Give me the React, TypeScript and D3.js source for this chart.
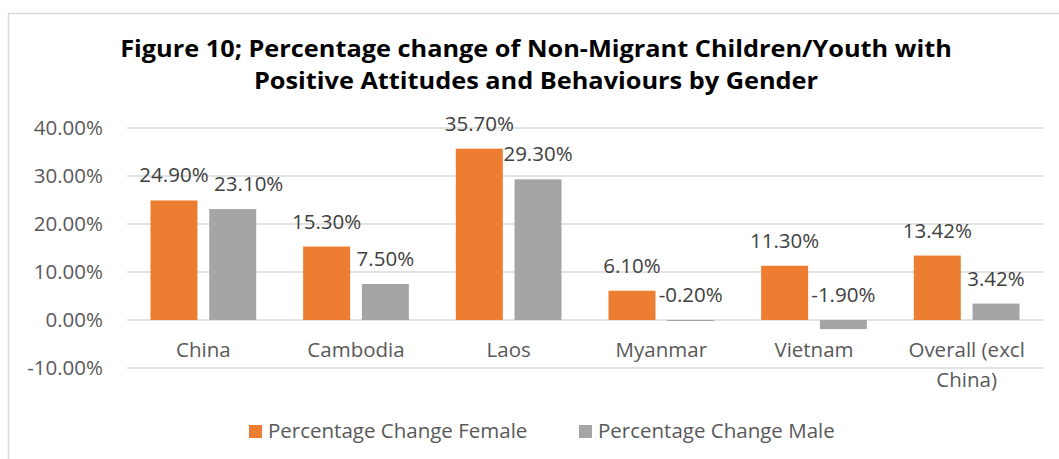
import React from "react";
import * as d3 from "d3";

// Categories, series and values
const categories: string[][] = [
  ["China"],
  ["Cambodia"],
  ["Laos"],
  ["Myanmar"],
  ["Vietnam"],
  ["Overall (excl", "China)"],
];
const seriesNames = ["Percentage Change Female", "Percentage Change Male"];
const femaleValues = [24.9, 15.3, 35.7, 6.1, 11.3, 13.42];
const maleValues = [23.1, 7.5, 29.3, -0.2, -1.9, 3.42];
const yTicks = [-10, 0, 10, 20, 30, 40];
const titleLines = [
  "Figure 10; Percentage change of Non-Migrant Children/Youth with",
  "Positive Attitudes and Behaviours by Gender",
];

const W = 1059;
const H = 459;
const COLORS = ["#ED7D31", "#A5A5A5"];
const FONT = "'Open Sans', 'Noto Sans', sans-serif";
const TITLE_FONT = "'Open Sans', Lato, sans-serif";
// the title face is set a little wider than Open Sans Bold
const TITLE_STRETCH = 1.11;

const plot = { left: 127, right: 1043, top: 128, bottom: 368 };

function Title({ text, x, y }: { text: string; x: number; y: number }) {
  const ref = React.useRef<SVGTextElement>(null);
  React.useLayoutEffect(() => {
    const el = ref.current;
    if (!el) return;
    el.removeAttribute("textLength");
    const w = el.getComputedTextLength();
    el.setAttribute("textLength", String(w * TITLE_STRETCH));
    el.setAttribute("lengthAdjust", "spacingAndGlyphs");
  }, [text]);
  return (
    <text
      ref={ref}
      x={x}
      y={y}
      textAnchor="middle"
      fontFamily={TITLE_FONT}
      fontWeight={700}
      fontSize={22.8}
      fill="#000"
    >
      {text}
    </text>
  );
}

export default function App() {
  const keys = categories.map((c) => c.join(" "));
  const x0 = d3.scaleBand<string>().domain(keys).range([plot.left, plot.right]).padding(0);
  const x1 = d3
    .scaleBand<number>()
    .domain([0, 1])
    .range([0, x0.bandwidth()])
    .paddingInner(0.2)
    .paddingOuter(0.4);
  const y = d3.scaleLinear().domain([-10, 40]).range([plot.bottom, plot.top]);

  const series = [femaleValues, maleValues];
  const fmt = (v: number) => v.toFixed(2) + "%";

  // The China male label sits a little to the right so it clears its neighbour
  const labelShift = (s: number, i: number) => (s === 1 && i === 0 ? 16 : 0);

  return (
    <svg
      width={W}
      height={H}
      style={{ position: "absolute", left: 0, top: 0, background: "#fff" }}
    >
      <rect x={8.5} y={13.5} width={W + 20} height={H + 20} fill="#fff" stroke="#D9D9D9" strokeWidth={1.5} />

      {titleLines.map((t, i) => (
        <Title key={i} text={t} x={536} y={57 + i * 32} />
      ))}

      {/* gridlines */}
      {yTicks.map((t) => (
        <line
          key={t}
          x1={plot.left}
          x2={plot.right}
          y1={y(t)}
          y2={y(t)}
          stroke="#D9D9D9"
          strokeWidth={1.5}
        />
      ))}

      {/* y tick labels */}
      {yTicks.map((t) => (
        <text
          key={"l" + t}
          x={103}
          y={y(t) + 7}
          textAnchor="end"
          fontFamily={FONT}
          fontSize={20.5}
          fill="#595959"
        >
          {t.toFixed(2) + "%"}
        </text>
      ))}

      {/* bars */}
      {series.map((vals, s) =>
        vals.map((v, i) => (
          <rect
            key={`b${s}-${i}`}
            x={(x0(keys[i]) ?? 0) + (x1(s) ?? 0)}
            y={y(Math.max(v, 0))}
            width={x1.bandwidth()}
            height={Math.abs(y(v) - y(0))}
            fill={COLORS[s]}
          />
        ))
      )}

      {/* data labels */}
      {series.map((vals, s) =>
        vals.map((v, i) => (
          <text
            key={`d${s}-${i}`}
            x={(x0(keys[i]) ?? 0) + (x1(s) ?? 0) + x1.bandwidth() / 2 + labelShift(s, i)}
            y={y(Math.max(v, 0)) - 18}
            textAnchor="middle"
            fontFamily={FONT}
            fontSize={20.5}
            fill="#404040"
          >
            {fmt(v)}
          </text>
        ))
      )}

      {/* category labels */}
      {categories.map((lines, i) =>
        lines.map((ln, j) => (
          <text
            key={`c${i}-${j}`}
            x={(x0(keys[i]) ?? 0) + x0.bandwidth() / 2}
            y={357 + j * 30}
            textAnchor="middle"
            fontFamily={FONT}
            fontSize={20.5}
            fill="#595959"
          >
            {ln}
          </text>
        ))
      )}

      {/* legend */}
      {seriesNames.map((n, s) => {
        const lx = s === 0 ? 249 : 579;
        return (
          <g key={n}>
            <rect x={lx} y={425} width={13} height={13} fill={COLORS[s]} />
            <text x={lx + 19} y={438} fontFamily={FONT} fontSize={20.5} fill="#595959">
              {n}
            </text>
          </g>
        );
      })}
    </svg>
  );
}
